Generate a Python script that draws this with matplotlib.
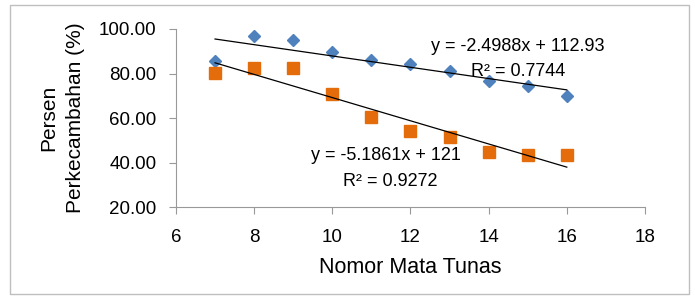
"""
Persen perkecambahan vs nomor mata tunas, two series with linear trendlines.
"""

import numpy as np
import matplotlib.pyplot as plt
from matplotlib.patches import Rectangle

plt.rcParams['font.family'] = ['Liberation Sans', 'DejaVu Sans']

# Data
nomor = [7, 8, 9, 10, 11, 12, 13, 14, 15, 16]
seri_biru = [85.8, 97.0, 95.2, 89.6, 86.2, 84.4, 81.3, 76.7, 74.6, 69.9]
seri_oranye = [80.4, 82.4, 82.4, 70.7, 60.6, 54.1, 51.6, 44.8, 43.3, 43.3]
eq_biru = ['y = -2.4988x + 112.93', 'R² = 0.7744']
eq_oranye = ['y = -5.1861x + 121', 'R² = 0.9272']
x_ticks = [6, 8, 10, 12, 14, 16, 18]
y_ticks = [20, 40, 60, 80, 100]

fig = plt.figure(figsize=(6.95, 3.03), dpi=100)
ax = fig.add_axes([0.2532, 0.3168, 0.6748, 0.5875])

# outer chart frame
fig.patches.append(Rectangle((0.014, 0.03), 0.978, 0.955, transform=fig.transFigure,
                             fill=False, edgecolor='#bfbfbf', linewidth=1))

x = np.array(nomor)
for y, color, marker, ms in [(seri_biru, '#4f81bd', 'D', 6.5),
                             (seri_oranye, '#e46c0a', 's', 8)]:
    ax.plot(x, y, linestyle='none', marker=marker, markersize=ms,
            color=color, zorder=3)
    coeffs = np.polyfit(x, y, 1)
    ax.plot(x, np.polyval(coeffs, x), color='black', linewidth=0.9, zorder=4)

ax.text(14.75, 92.0, eq_biru[0], ha='center', va='center', fontsize=13)
ax.text(14.75, 80.7, eq_biru[1], ha='center', va='center', fontsize=13)
ax.text(11.36, 43.3, eq_oranye[0], ha='center', va='center', fontsize=13)
ax.text(11.48, 31.6, eq_oranye[1], ha='center', va='center', fontsize=13)

ax.set_xlim(6, 18)
ax.set_ylim(20, 100)
ax.set_xticks(x_ticks)
ax.set_yticks(y_ticks)
ax.set_yticklabels([f'{v:.2f}' for v in y_ticks])
ax.tick_params(axis='both', labelsize=13.5, length=5, color='#999999')
ax.tick_params(axis='x', pad=11)
ax.tick_params(axis='y', pad=9)

for side in ['top', 'right']:
    ax.spines[side].set_visible(False)
for side in ['left', 'bottom']:
    ax.spines[side].set_color('#999999')

ax.set_xlabel('Nomor Mata Tunas', fontsize=15.5, labelpad=8)
ax.set_ylabel('Persen\nPerkecambahan (%)', fontsize=15, labelpad=10,
              linespacing=1.5)

fig.savefig('out.png', dpi=100)
plt.close(fig)
